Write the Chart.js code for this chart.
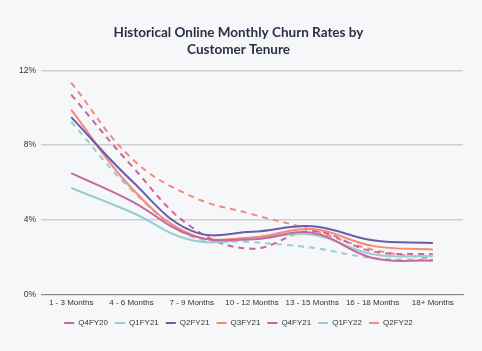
<!DOCTYPE html>
<html>
<head>
<meta charset="utf-8">
<script src="https://cdn.jsdelivr.net/npm/chart.js@4"></script>
<style>
  html, body { margin: 0; padding: 0; background: #f6f7f9; }
  #wrap { width: 482px; height: 351px; }
</style>
</head>
<body>
<div id="wrap"><canvas id="churnChart" width="482" height="351"></canvas></div>
<script>
const tenures = ["1 - 3 Months", "4 - 6 Months", "7 - 9 Months", "10 - 12 Months", "13 - 15 Months", "16 - 18 Months", "18+ Months"];

const q4fy20 = [6.5, 5.0, 3.15, 2.95, 3.3, 1.95, 1.8];
const q1fy21 = [5.7, 4.4, 2.9, 2.95, 3.2, 2.15, 2.05];
const q2fy21 = [9.5, 6.1, 3.4, 3.35, 3.65, 2.9, 2.75];
const q3fy21 = [9.9, 5.7, 3.2, 3.05, 3.5, 2.6, 2.4];
const q4fy21 = [10.7, 6.9, 3.6, 2.45, 3.4, 2.3, 2.15];
const q1fy22 = [9.25, 5.6, 3.1, 2.8, 2.5, 1.95, 1.85];
const q2fy22 = [11.35, 7.3, 5.25, 4.3, 3.45, 2.4, 1.9];

const yTicks = [0, 4, 8, 12];

function line(label, data, color, dashed) {
    return {
        label: label,
        data: data,
        borderColor: color,
        backgroundColor: color,
        borderWidth: 2,
        borderDash: dashed ? [6, 5] : [],
        pointRadius: 0,
        tension: 0.4,
        fill: false
    };
}

const ctx = document.getElementById("churnChart").getContext("2d");

new Chart(ctx, {
    type: "line",
    data: {
        labels: tenures,
        datasets: [
            line("Q4FY20", q4fy20, "#c6679e", false),
            line("Q1FY21", q1fy21, "#9bcdd0", false),
            line("Q2FY21", q2fy21, "#6b5bad", false),
            line("Q3FY21", q3fy21, "#f38b76", false),
            line("Q4FY21", q4fy21, "#c6679e", true),
            line("Q1FY22", q1fy22, "#9bcdd0", true),
            line("Q2FY22", q2fy22, "#f38b76", true)
        ]
    },
    options: {
        responsive: false,
        animation: false,
        layout: { padding: { left: 14, right: 19, top: 25, bottom: 14 } },
        plugins: {
            title: {
                display: true,
                text: ["Historical Online Monthly Churn Rates by", "Customer Tenure"],
                color: "#2d2f45",
                font: { family: "Lato", size: 13.5, weight: "bold", lineHeight: 1.2 },
                padding: { top: 0, bottom: 13 }
            },
            legend: {
                position: "bottom",
                labels: {
                    boxWidth: 10,
                    boxHeight: 0,
                    padding: 7,
                    color: "#333",
                    font: { family: "'Liberation Sans', Arial, sans-serif", size: 8 },
                    generateLabels: function (chart) {
                        const items = Chart.defaults.plugins.legend.labels.generateLabels(chart);
                        items.forEach(function (it) {
                            it.fillStyle = "transparent";
                            it.lineWidth = 2;
                            if (it.lineDash && it.lineDash.length) it.lineDash = [4, 2];
                        });
                        return items;
                    }
                }
            },
            tooltip: { enabled: false }
        },
        scales: {
            x: {
                offset: true,
                grid: { display: false, drawTicks: false },
                border: { color: "#888", width: 1 },
                ticks: {
                    color: "#333",
                    font: { family: "'Liberation Sans', Arial, sans-serif", size: 8 },
                    maxRotation: 0,
                    autoSkip: false,
                    padding: 4
                }
            },
            y: {
                min: 0,
                max: 12,
                afterBuildTicks: function (axis) {
                    axis.ticks = yTicks.map(function (v) { return { value: v }; });
                },
                grid: { color: "#cfcfd2", lineWidth: 1.5, drawTicks: false },
                border: { display: false },
                ticks: {
                    color: "#333",
                    font: { family: "'Liberation Sans', Arial, sans-serif", size: 8.5 },
                    padding: 5,
                    callback: function (v) { return v + "%"; }
                }
            }
        }
    }
});
</script>
</body>
</html>
